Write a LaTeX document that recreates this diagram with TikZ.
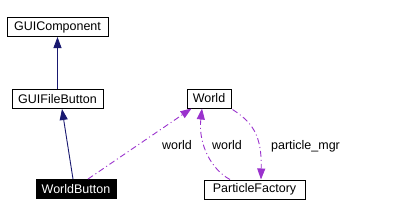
\documentclass[tikz,border=0pt]{standalone}
\usepackage{fontspec}
\setmainfont{Liberation Sans}
\usetikzlibrary{arrows.meta,calc}
\definecolor{navyedge}{HTML}{191970}
\definecolor{purpleedge}{HTML}{9A32CD}
\tikzset{
  cls/.style={draw=black, line width=1pt, minimum height=19pt, inner sep=0pt, font=\fontsize{12.5}{14}\selectfont},
  inherit/.style={draw=navyedge, line width=0.9pt, -{Triangle[length=11pt,width=8pt]}},
  usage/.style={draw=purpleedge, line width=0.9pt, dash pattern=on 6pt off 3pt on 1pt off 3pt, -{Triangle[length=11pt,width=8pt]}},
  lbl/.style={font=\fontsize{12.5}{14}\selectfont, anchor=base, inner sep=0pt}
}
\begin{document}
\begin{tikzpicture}[x=1pt,y=-1pt]
\useasboundingbox (0,0) rectangle (394,217);
\node[cls, minimum width=101pt] (guic) at (57.5,27) {GUIComponent};
\node[cls, minimum width=91pt] (guifb) at (57.5,99) {GUIFileButton};
\node[cls, minimum width=80pt, fill=black, text=white] (wb) at (76,189) {WorldButton};
\node[cls, minimum width=44pt] (world) at (209,98.5) {World};
\node[cls, minimum width=101pt] (pf) at (254.5,189.5) {ParticleFactory};
\draw[inherit] (guifb.north) -- (guic.south);
\draw[inherit] ($(wb.north)+(-3,0)$) -- ($(guifb.south)+(4.5,0)$);
\draw[usage] ($(wb.north)+(12,0)$) -- ($(world.south west)+(5,0)$);
\draw[usage] ($(pf.north)+(-24.5,0)$) .. controls (212,170) and (198,145) .. ($(world.south)+(-7,0)$);
\draw[usage] ($(world.south east)+(1,1)$) .. controls (252,122) and (262,135) .. ($(pf.north)+(6.5,0)$);
\node[lbl] (l1) at (177,149) {world};
\node[lbl] (l2) at (227,149) {world};
\node[lbl] (l3) at (305.5,149) {particle\_mgr};
\end{tikzpicture}
\end{document}
